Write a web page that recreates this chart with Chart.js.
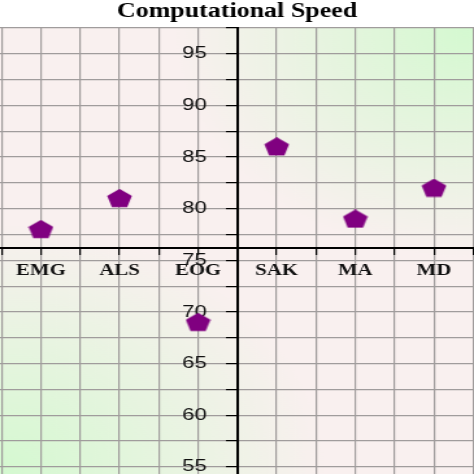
<!DOCTYPE html>
<html lang="en">
  <head>
    <meta charset="UTF-8" />
    <title>Computational Speed</title>
    <script src="https://cdn.jsdelivr.net/npm/chart.js"></script>
    <style>
      html, body { margin: 0; padding: 0; overflow: hidden; background: #fff; }
      #wrap {
        width: 365px;
        height: 474px;
        transform: scaleX(1.2986);
        transform-origin: 0 0;
      }
    </style>
  </head>
  <body>
    <div id="wrap"><canvas id="speedChart"></canvas></div>

    <script>
      let categories = ['EMG', 'ALS', 'EOG', 'SAK', 'MA', 'MD'];
      let speed = [78, 81, 69, 86, 79, 82];

      let yTicks = [55, 57.5, 60, 62.5, 65, 67.5, 70, 72.5, 75, 77.5, 80, 82.5, 85, 87.5, 90, 92.5, 95, 97.5];
      let xTicks = [-0.5, 0, 0.5, 1, 1.5, 2, 2.5, 3, 3.5, 4, 4.5, 5, 5.5];

      // pentagon marker
      function pentagon(color) {
        var c = document.createElement('canvas');
        c.width = 20;
        c.height = 19;
        var ctx = c.getContext('2d');
        var r = 10, cx = 10, cy = 10.1;
        ctx.beginPath();
        for (var i = 0; i < 5; i++) {
          var a = -Math.PI / 2 + i * 2 * Math.PI / 5;
          var px = cx + r * Math.cos(a), py = cy + r * Math.sin(a);
          if (i === 0) ctx.moveTo(px, py); else ctx.lineTo(px, py);
        }
        ctx.closePath();
        ctx.fillStyle = color;
        ctx.fill();
        return c;
      }

      function noPad(scale) {
        scale.paddingTop = 0;
        scale.paddingBottom = 0;
        scale.paddingLeft = 0;
        scale.paddingRight = 0;
      }

      var bgPlugin = {
        id: 'bg',
        beforeDraw: function (chart) {
          var ctx = chart.ctx, a = chart.chartArea;
          ctx.save();
          ctx.fillStyle = '#f9f0ef';
          ctx.fillRect(a.left, a.top, a.right - a.left, a.bottom - a.top);
          var g1 = ctx.createRadialGradient(a.right, a.top, 0, a.right, a.top, 230);
          g1.addColorStop(0, 'rgba(212,249,208,1)');
          g1.addColorStop(1, 'rgba(212,249,208,0)');
          ctx.fillStyle = g1;
          ctx.fillRect(a.left, a.top, a.right - a.left, a.bottom - a.top);
          var g2 = ctx.createRadialGradient(a.left, a.bottom, 0, a.left, a.bottom, 250);
          g2.addColorStop(0, 'rgba(212,249,208,1)');
          g2.addColorStop(1, 'rgba(212,249,208,0)');
          ctx.fillStyle = g2;
          ctx.fillRect(a.left, a.top, a.right - a.left, a.bottom - a.top);
          ctx.restore();
        },
      };

      var config = {
        type: 'scatter',
        data: {
          datasets: [
            {
              label: 'Computational Speed',
              data: speed.map(function (v, i) { return { x: i, y: v }; }),
              pointStyle: pentagon('#800080'),
              backgroundColor: '#800080',
            },
          ],
        },
        options: {
          responsive: true,
          maintainAspectRatio: false,
          animation: false,
          layout: { padding: 0, autoPadding: false },
          plugins: {
            legend: { display: false },
            tooltip: { enabled: false },
            title: {
              display: true,
              text: 'Computational Speed',
              color: '#000',
              font: { family: 'Liberation Serif', size: 20, weight: 'bold' },
              padding: { top: 0, bottom: 4 },
            },
          },
          scales: {
            x: {
              type: 'linear',
              min: -0.52,
              max: 5.51,
              position: { y: 76.15 },
              afterBuildTicks: function (scale) {
                scale.ticks = xTicks.map(function (v) { return { value: v }; });
              },
              afterFit: noPad,
              ticks: {
                autoSkip: false,
                maxRotation: 0,
                padding: 7,
                color: '#111',
                font: { family: 'Liberation Serif', size: 16, weight: 'bold' },
                callback: function (value) {
                  return Number.isInteger(value) && categories[value] ? categories[value] : '';
                },
              },
              grid: { color: '#a09c9c', lineWidth: 1.2, tickColor: '#000', tickLength: 6 },
              border: { color: '#000', width: 2 },
            },
            y: {
              type: 'linear',
              min: 54.3,
              max: 97.5,
              position: { x: 2.5 },
              afterBuildTicks: function (scale) {
                scale.ticks = yTicks.map(function (v) { return { value: v }; });
              },
              afterFit: noPad,
              ticks: {
                color: '#111',
                font: { family: 'Liberation Sans', size: 17 },
                // trailing spaces keep the label clear of the tick marks
                callback: function (value) {
                  return value % 5 === 0 ? value + '     ' : '';
                },
              },
              grid: { color: '#a09c9c', lineWidth: 1.2, tickColor: '#000', tickLength: 8 },
              border: { color: '#000', width: 2 },
            },
          },
        },
        plugins: [bgPlugin],
      };

      var speedChart = new Chart(document.getElementById('speedChart'), config);
    </script>
  </body>
</html>
